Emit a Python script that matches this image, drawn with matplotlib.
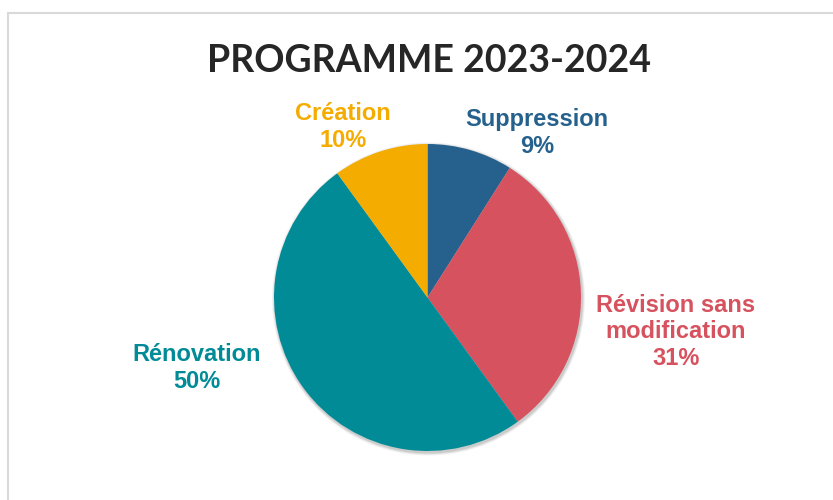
import matplotlib
matplotlib.use("Agg")
from matplotlib import pyplot as plt
from matplotlib.patches import Rectangle

# Données
categories = ["Suppression", "Révision sans\nmodification", "Rénovation", "Création"]
valeurs = [9, 31, 50, 10]
couleurs = ["#25618C", "#D6525E", "#008B96", "#F5AC00"]

titre = "PROGRAMME 2023-2024"

# Positions des étiquettes (pixels, origine en haut à gauche)
pos_etiquettes = [(537, 133), (676, 332), (197, 368), (343, 127)]

W, H = 833, 500
fig = plt.figure(figsize=(W / 100, H / 100), dpi=100)
ax = fig.add_axes([0, 0, 1, 1])

# cadre gris clair (seuls les bords gauche et haut sont visibles)
ax.add_patch(Rectangle((8, -10), W + 20, H - 13 + 10, fill=False,
                       edgecolor="#D9D9D9", linewidth=1.5))

cx, cy, r = 427.5, H - 297.5, 153.5

# ombre légère
for k, a in [(3.0, 0.05), (2.0, 0.07), (1.0, 0.09)]:
    ax.add_patch(plt.Circle((cx + 1, cy - 1.5), r + k, color="#000000",
                            alpha=a, linewidth=0))

ax.pie(valeurs, colors=couleurs, startangle=90, counterclock=False,
       center=(cx, cy), radius=r, frame=True,
       wedgeprops=dict(linewidth=0))
ax.set_xlim(0, W)
ax.set_ylim(0, H)
ax.set_aspect("equal")
ax.axis("off")

for cat, v, c, (x, y) in zip(categories, valeurs, couleurs, pos_etiquettes):
    ax.text(x, H - y, f"{cat}\n{v}%", color=c, ha="center", va="center",
            fontsize=17, fontweight="bold", family="Liberation Sans",
            linespacing=1.22)

ax.text(429, H - 61, titre, ha="center", va="center",
        fontsize=27, fontweight="bold", family="Lato", color="#262626")

fig.savefig("out.png", dpi=100)
